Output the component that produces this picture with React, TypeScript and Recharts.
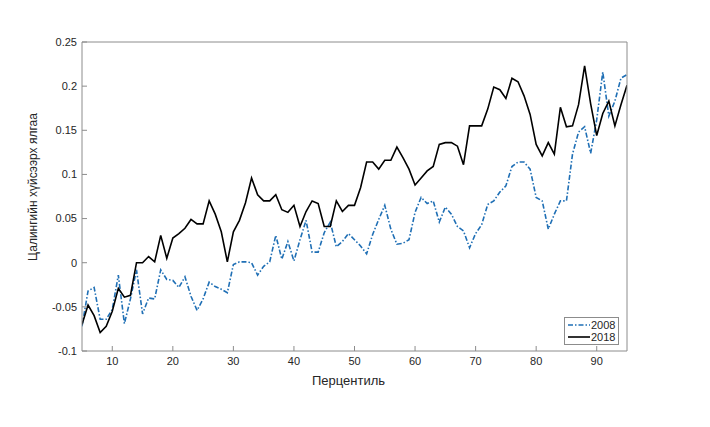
import React from 'react';
import { LineChart, Line, XAxis, YAxis, Legend } from 'recharts';

const percentiles = [
  5, 6, 7, 8, 9, 10, 11, 12, 13, 14, 15, 16, 17, 18, 19, 20, 21, 22, 23, 24,
  25, 26, 27, 28, 29, 30, 31, 32, 33, 34, 35, 36, 37, 38, 39, 40, 41, 42, 43, 44,
  45, 46, 47, 48, 49, 50, 51, 52, 53, 54, 55, 56, 57, 58, 59, 60, 61, 62, 63, 64,
  65, 66, 67, 68, 69, 70, 71, 72, 73, 74, 75, 76, 77, 78, 79, 80, 81, 82, 83, 84,
  85, 86, 87, 88, 89, 90, 91, 92, 93, 94, 95,
];

const gap2008 = [
  -0.072, -0.032, -0.028, -0.064, -0.064, -0.053, -0.014, -0.069, -0.041, -0.008,
  -0.058, -0.04, -0.041, -0.008, -0.019, -0.02, -0.028, -0.016, -0.038, -0.054,
  -0.041, -0.022, -0.027, -0.03, -0.034, -0.002, 0.001, 0.001, 0.0, -0.014,
  -0.004, 0.001, 0.031, 0.004, 0.024, 0.002, 0.026, 0.048, 0.012, 0.012,
  0.034, 0.046, 0.018, 0.024, 0.033, 0.026, 0.019, 0.01, 0.032, 0.049,
  0.065, 0.038, 0.021, 0.022, 0.026, 0.057, 0.074, 0.067, 0.07, 0.046,
  0.063, 0.055, 0.041, 0.036, 0.017, 0.033, 0.043, 0.066, 0.07, 0.08,
  0.087, 0.109, 0.114, 0.114, 0.106, 0.074, 0.07, 0.038, 0.055, 0.07,
  0.07, 0.123, 0.148, 0.154, 0.124, 0.162, 0.216, 0.166, 0.183, 0.209, 0.213,
];

const gap2018 = [
  -0.07, -0.048, -0.06, -0.079, -0.072, -0.055, -0.029, -0.039, -0.037, 0.0,
  0.0, 0.007, 0.001, 0.031, 0.005, 0.028, 0.033, 0.039, 0.049, 0.044,
  0.044, 0.07, 0.055, 0.035, 0.001, 0.035, 0.048, 0.068, 0.096, 0.077,
  0.07, 0.07, 0.077, 0.06, 0.057, 0.065, 0.041, 0.058, 0.07, 0.067,
  0.041, 0.041, 0.07, 0.058, 0.065, 0.065, 0.085, 0.114, 0.114, 0.106,
  0.116, 0.116, 0.131, 0.119, 0.106, 0.088, 0.096, 0.104, 0.109, 0.134,
  0.136, 0.136, 0.132, 0.111, 0.155, 0.155, 0.155, 0.174, 0.199, 0.196,
  0.186, 0.209, 0.205, 0.189, 0.168, 0.134, 0.121, 0.136, 0.123, 0.176,
  0.154, 0.155, 0.179, 0.223, 0.18, 0.144, 0.169, 0.183, 0.155, 0.179, 0.201,
];

const xTicks = [10, 20, 30, 40, 50, 60, 70, 80, 90];
const yTicks = [-0.1, -0.05, 0, 0.05, 0.1, 0.15, 0.2, 0.25];

const BLUE = '#1f6fb5';
const AXIS = '#8c8c8c';
const TEXT = '#262626';
const DASH = '5 2 1.5 2';

const data = percentiles.map((p, i) => ({ p, y2008: gap2008[i], y2018: gap2018[i] }));

const LegendBox = () => (
  <div
    style={{
      border: `1px solid ${AXIS}`,
      background: '#fff',
      padding: '1px 3px 1px 2px',
      fontSize: 11,
      color: TEXT,
    }}
  >
    {[
      { name: '2008', color: BLUE, dash: DASH },
      { name: '2018', color: '#000', dash: undefined },
    ].map((it) => (
      <div key={it.name} style={{ display: 'flex', alignItems: 'center', height: 12, lineHeight: '12px' }}>
        <svg width={24} height={10}>
          <line x1={1} y1={5} x2={23} y2={5} stroke={it.color} strokeWidth={1.6} strokeDasharray={it.dash} />
        </svg>
        <span>{it.name}</span>
      </div>
    ))}
  </div>
);

const YLabel = () => (
  <text
    x={33}
    y={187}
    transform="rotate(-90 33 187)"
    textAnchor="middle"
    dominantBaseline="central"
    fontSize={12}
    fill={TEXT}
  >
    Цалингийн хүйсээрх ялгаа
  </text>
);

export default function App() {
  return (
    <div
      style={{
        position: 'absolute',
        left: 0,
        top: 0,
        width: 710,
        height: 427,
        background: '#fff',
        fontFamily: '"Liberation Sans", Arial, sans-serif',
      }}
    >
      <LineChart width={710} height={427} data={data} margin={{ top: 32, right: 73, bottom: 46, left: 22 }}>
        <XAxis
          dataKey="p"
          type="number"
          domain={[5, 95]}
          allowDataOverflow
          ticks={xTicks}
          interval={0}
          height={30}
          stroke={AXIS}
          tickSize={-5}
          tickMargin={11}
          tick={{ fontSize: 11, fill: TEXT }}
          label={{ value: 'Перцентиль', position: 'bottom', offset: -5, dx: -6, fontSize: 13, fill: TEXT }}
        />
        <XAxis
          xAxisId="top"
          orientation="top"
          type="number"
          domain={[5, 95]}
          allowDataOverflow
          ticks={xTicks}
          interval={0}
          height={10}
          stroke={AXIS}
          tickSize={-5}
          tick={false}
        />
        <YAxis
          type="number"
          domain={[-0.1, 0.25]}
          allowDataOverflow
          ticks={yTicks}
          interval={0}
          width={60}
          stroke={AXIS}
          tickSize={-5}
          tickMargin={10}
          tick={{ fontSize: 11, fill: TEXT }}
          label={<YLabel />}
        />
        <YAxis
          yAxisId="right"
          orientation="right"
          type="number"
          domain={[-0.1, 0.25]}
          allowDataOverflow
          ticks={yTicks}
          interval={0}
          width={10}
          stroke={AXIS}
          tickSize={-5}
          tick={false}
        />
        <Legend
          layout="vertical"
          align="center"
          verticalAlign="middle"
          content={<LegendBox />}
          wrapperStyle={{ left: 564, top: 317, width: 'auto' }}
        />
        <Line
          type="linear"
          dataKey="y2008"
          name="2008"
          stroke={BLUE}
          strokeWidth={1.6}
          strokeDasharray={DASH}
          dot={false}
          isAnimationActive={false}
        />
        <Line
          type="linear"
          dataKey="y2018"
          name="2018"
          stroke="#000"
          strokeWidth={1.6}
          dot={false}
          isAnimationActive={false}
        />
      </LineChart>
    </div>
  );
}
